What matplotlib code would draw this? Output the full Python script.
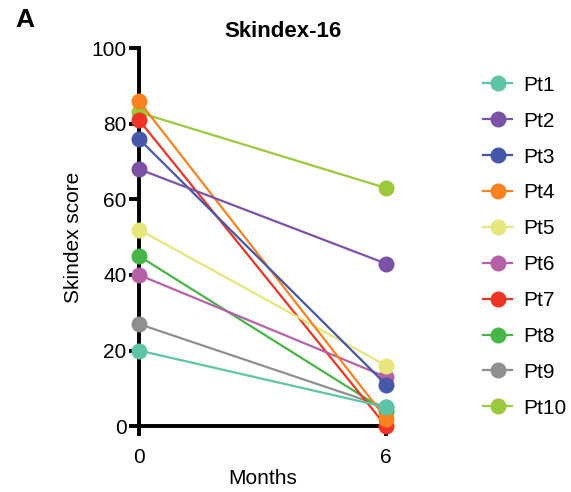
import matplotlib
matplotlib.use("Agg")
from matplotlib import pyplot as plt

plt.rcParams["font.family"] = ["Liberation Sans", "DejaVu Sans"]

patients = ["Pt1", "Pt2", "Pt3", "Pt4", "Pt5", "Pt6", "Pt7", "Pt8", "Pt9", "Pt10"]
months = [0, 6]
baseline = [20, 68, 76, 86, 52, 40, 81, 45, 27, 83]
month6 = [5, 43, 11, 2, 16, 13, 0, 4, 5, 63]
colors = ["#5EC4A8", "#7B52A6", "#4557A8", "#F7821F", "#E6E67A",
          "#B660A8", "#EE3424", "#48B549", "#8F8F8F", "#9CC93B"]

fig = plt.figure(figsize = (5.71, 4.92), dpi = 100)
ax = fig.add_axes([0.2434, 0.134, 0.4326, 0.768])

n = len(patients)
for i, (name, b, m, c) in enumerate(zip(patients, baseline, month6, colors)):
    ax.plot(months, [b, m], color = c, lw = 1.6, marker = "o", ms = 10.5,
            label = name, clip_on = False, zorder = 3 + n - i)

ax.set_xlim(0, 6)
ax.set_ylim(0, 100)
ax.set_xticks([0, 6])
ax.set_yticks(range(0, 101, 20))
for s in ["top", "right"]:
    ax.spines[s].set_visible(False)
for s in ["left", "bottom"]:
    ax.spines[s].set_linewidth(2.8)
ax.tick_params(width = 2.8, length = 7, labelsize = 15, pad = 2)
ax.tick_params(axis = "x", pad = 9)
ax.set_xlabel("Months", fontsize = 15, labelpad = 1)
ax.set_ylabel("Skindex score", fontsize = 15, labelpad = 6)
ax.set_title("Skindex-16", fontsize = 16, fontweight = "bold", pad = 8, x = 0.583)

ax.legend(loc = "upper left", bbox_to_anchor = (0.846, 0.846), bbox_transform = fig.transFigure,
          frameon = False, fontsize = 15, labelspacing = 0.81, handlelength = 1.4,
          handletextpad = 0.55, borderaxespad = 0, borderpad = 0)

fig.text(0.026, 0.945, "A", fontsize = 19, fontweight = "bold")

plt.savefig("out.png", dpi = 100)
